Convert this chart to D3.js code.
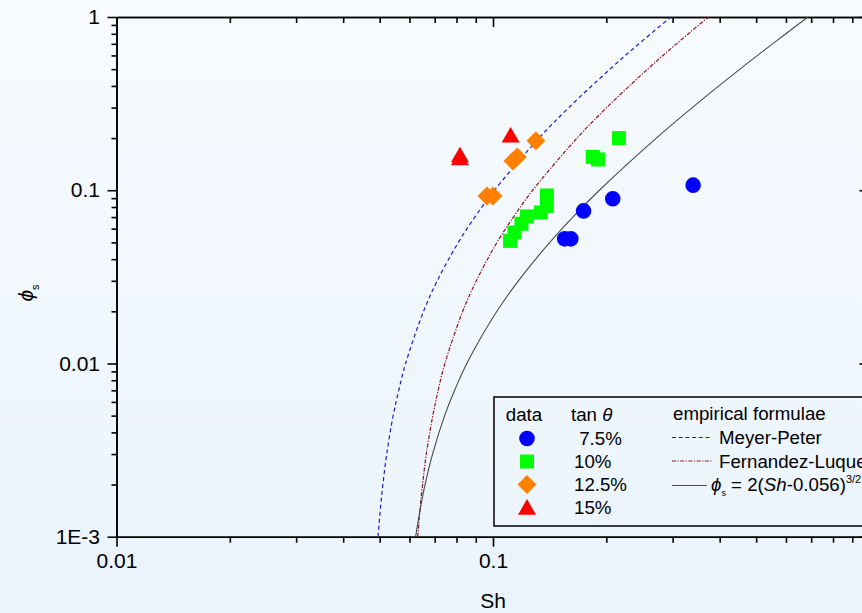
<!DOCTYPE html>
<html>
<head>
<meta charset="utf-8">
<script src="https://d3js.org/d3.v7.min.js"></script>
<style>
    body { margin: 0; }
    svg text { font-family: "Liberation Sans", Arial, sans-serif; fill: #000; }
    .axis path, .axis line { stroke: #000; stroke-width: 1.6; }
</style>
</head>
<body>
<svg id="chart" width="862" height="613"></svg>
<script>
// measured points, tan theta = 7.5 %, 10 %, 12.5 %, 15 %
var circSh  = [0.155, 0.161, 0.174, 0.208, 0.340];
var circPhi = [0.0524, 0.0524, 0.076, 0.0894, 0.107];
var sqSh  = [0.111, 0.114, 0.119, 0.123, 0.134, 0.139, 0.139, 0.184, 0.190, 0.216];
var sqPhi = [0.051, 0.057, 0.064, 0.0706, 0.0744, 0.0812, 0.0933, 0.1557, 0.1505, 0.200];
var diaSh  = [0.0964, 0.100, 0.113, 0.116, 0.130];
var diaPhi = [0.0927, 0.0927, 0.1476, 0.1557, 0.193];
var triSh  = [0.0817, 0.0817, 0.1114];
var triPhi = [0.1555, 0.1495, 0.202];

// empirical curves as (phi, Sh) pairs
var curvePhi = [0.001, 0.0015, 0.002, 0.003, 0.005, 0.007, 0.01, 0.02, 0.03, 0.05, 0.07, 0.1, 0.2, 0.3, 0.5, 0.7, 1];
var meyerSh  = [0.0495, 0.0503, 0.0510, 0.0522, 0.0543, 0.0562, 0.0586, 0.0654, 0.0711, 0.0809, 0.0895, 0.1009, 0.1325, 0.1590, 0.2045, 0.2441, 0.297];
var fernSh   = [0.0631, 0.0641, 0.0650, 0.0665, 0.0692, 0.0715, 0.0745, 0.0831, 0.0903, 0.1025, 0.1133, 0.1275, 0.1672, 0.2004, 0.2574, 0.3071, 0.3734];
var fitSh    = [0.0623, 0.0643, 0.0660, 0.0691, 0.0744, 0.0791, 0.0852, 0.1024, 0.1168, 0.1415, 0.1630, 0.1917, 0.2715, 0.3383, 0.4529, 0.5527, 0.686];

var xMajor = [0.01, 0.1, 1];
var xLabels = ["0.01", "0.1", ""];   // "1" falls outside the picture
var yMajor = [0.001, 0.01, 0.1, 1];
var yLabels = ["1E-3", "0.01", "0.1", "1"];

function minors(lo, hi) {
    var out = [];
    for (var d = lo; d < hi; d *= 10)
        for (var k = 2; k <= 9; k++) out.push(d * k);
    return out;
}

var svg = d3.select("#chart");
var defs = svg.append("defs");
var grad = defs.append("linearGradient").attr("id", "bg")
    .attr("x1", 0).attr("y1", 0).attr("x2", 0).attr("y2", 1);
grad.append("stop").attr("offset", "0%").attr("stop-color", "#f8fbff");
grad.append("stop").attr("offset", "100%").attr("stop-color", "#eaf4fd");
svg.append("rect").attr("width", 862).attr("height", 613).attr("fill", "url(#bg)");

var pLeft = 116.5, pRight = 869.5, pTop = 17, pBottom = 536.7;
var x = d3.scaleLog().domain([0.01, 1]).range([pLeft, pRight]);
var y = d3.scaleLog().domain([0.001, 1]).range([pBottom, pTop]);

defs.append("clipPath").attr("id", "plot").append("rect")
    .attr("x", pLeft).attr("y", pTop).attr("width", pRight - pLeft).attr("height", pBottom - pTop);

// axes
function styleAxis(g) {
    g.attr("font-size", 21).attr("font-family", null);
}
svg.append("g").attr("class", "axis").attr("transform", "translate(0," + pBottom + ")")
    .call(d3.axisBottom(x).tickValues(minors(0.01, 1)).tickSize(6).tickSizeOuter(0).tickFormat(""));
svg.append("g").attr("class", "axis").attr("transform", "translate(0," + pBottom + ")")
    .call(d3.axisBottom(x).tickValues(xMajor).tickSize(10).tickSizeOuter(0).tickPadding(6)
        .tickFormat(function (d, i) { return xLabels[i]; }))
    .call(styleAxis);
svg.append("g").attr("class", "axis").attr("transform", "translate(0," + pTop + ")")
    .call(d3.axisTop(x).tickValues(minors(0.01, 1)).tickSize(-6).tickSizeOuter(0).tickFormat(""));
svg.append("g").attr("class", "axis").attr("transform", "translate(0," + pTop + ")")
    .call(d3.axisTop(x).tickValues(xMajor).tickSize(-10).tickSizeOuter(0).tickFormat(""));

svg.append("g").attr("class", "axis").attr("transform", "translate(" + pLeft + ",0)")
    .call(d3.axisLeft(y).tickValues(minors(0.001, 1)).tickSize(5).tickSizeOuter(0).tickFormat(""));
svg.append("g").attr("class", "axis").attr("transform", "translate(" + pLeft + ",0)")
    .call(d3.axisLeft(y).tickValues(yMajor).tickSize(9).tickSizeOuter(0).tickPadding(7.5)
        .tickFormat(function (d, i) { return yLabels[i]; }))
    .call(styleAxis);
svg.append("g").attr("class", "axis").attr("transform", "translate(" + pRight + ",0)")
    .call(d3.axisRight(y).tickValues(minors(0.001, 1)).tickSize(-5).tickSizeOuter(0).tickFormat(""));
svg.append("g").attr("class", "axis").attr("transform", "translate(" + pRight + ",0)")
    .call(d3.axisRight(y).tickValues(yMajor).tickSize(-10).tickSizeOuter(0).tickFormat(""));

// axis titles
svg.append("text").attr("x", 493).attr("y", 608).attr("text-anchor", "middle")
    .attr("font-size", 21).text("Sh");
var yt = svg.append("text").attr("transform", "translate(33,293) rotate(-90)")
    .attr("text-anchor", "middle").attr("font-size", 21);
yt.append("tspan").attr("font-style", "italic").text("\u03d5");
yt.append("tspan").attr("font-size", 11).attr("dy", 6).text("s");

// curves
var line = d3.line().curve(d3.curveCatmullRom)
    .x(function (d) { return x(d[0]); }).y(function (d) { return y(d[1]); });
var curves = svg.append("g").attr("clip-path", "url(#plot)").attr("fill", "none");
curves.append("path").datum(d3.zip(meyerSh, curvePhi)).attr("d", line)
    .attr("stroke", "#1c1cc4").attr("stroke-width", 1.2).attr("stroke-dasharray", "4,3");
curves.append("path").datum(d3.zip(fernSh, curvePhi)).attr("d", line)
    .attr("stroke", "#8e1616").attr("stroke-width", 1.2).attr("stroke-dasharray", "4,1.5,1.2,1.5");
curves.append("path").datum(d3.zip(fitSh, curvePhi)).attr("d", line)
    .attr("stroke", "#4a4a4a").attr("stroke-width", 1.1);

// markers
var sym = {
    circle: d3.symbol().type(d3.symbolCircle).size(190)(),
    square: d3.symbol().type(d3.symbolSquare).size(196)(),
    diamond: d3.symbol().type(d3.symbolSquare).size(180)(),
    triangle: d3.symbol().type(d3.symbolTriangle).size(140)()
};
var series = [
    { sh: circSh, phi: circPhi, shape: "circle", color: "#0000ff", rot: 0 },
    { sh: sqSh, phi: sqPhi, shape: "square", color: "#00ff00", rot: 0 },
    { sh: diaSh, phi: diaPhi, shape: "diamond", color: "#ff8000", rot: 45 },
    { sh: triSh, phi: triPhi, shape: "triangle", color: "#ff0000", rot: 0 }
];
series.forEach(function (s) {
    svg.append("g").selectAll("path")
        .data(d3.zip(s.sh, s.phi))
        .enter().append("path")
        .attr("d", sym[s.shape])
        .attr("transform", function (d) {
            return "translate(" + x(d[0]) + "," + y(d[1]) + ") rotate(" + s.rot + ")";
        })
        .attr("fill", s.color);
});

// legend
var lg = svg.append("g").attr("font-size", 18.7);
lg.append("rect").attr("x", 494).attr("y", 397).attr("width", 420).attr("height", 129)
    .attr("fill", "none").attr("stroke", "#000").attr("stroke-width", 1.5);
lg.append("text").attr("x", 524).attr("y", 421).attr("text-anchor", "middle").text("data");
var tt = lg.append("text").attr("x", 571).attr("y", 421);
tt.append("tspan").text("tan ");
tt.append("tspan").attr("font-style", "italic").text("\u03b8");
lg.append("text").attr("x", 673).attr("y", 420).text("empirical formulae");

var legRows = ["\u00a07.5%", "10%", "12.5%", "15%"];
series.forEach(function (s, i) {
    var cy = 438.5 + i * 23;
    lg.append("path").attr("d", sym[s.shape])
        .attr("transform", "translate(527," + (s.shape === "triangle" ? cy + 2 : cy) + ") rotate(" + s.rot + ")")
        .attr("fill", s.color);
    lg.append("text").attr("x", 574).attr("y", cy + 6.5).text(legRows[i]);
});

lg.append("line").attr("x1", 672).attr("x2", 712).attr("y1", 437.5).attr("y2", 437.5)
    .attr("stroke", "#1c1cc4").attr("stroke-width", 1.2).attr("stroke-dasharray", "4,2.7");
lg.append("text").attr("x", 719).attr("y", 444).text("Meyer-Peter");
lg.append("line").attr("x1", 672).attr("x2", 713).attr("y1", 461).attr("y2", 461)
    .attr("stroke", "#8e1616").attr("stroke-width", 1.2).attr("stroke-dasharray", "4,1.5,1.2,1.5");
lg.append("text").attr("x", 719).attr("y", 467.5).text("Fernandez-Luque");
lg.append("line").attr("x1", 672).attr("x2", 707).attr("y1", 485.5).attr("y2", 485.5)
    .attr("stroke", "#4a4a4a").attr("stroke-width", 1.1);
var ft = lg.append("text").attr("x", 711).attr("y", 490.5);
ft.append("tspan").attr("font-style", "italic").text("\u03d5");
ft.append("tspan").attr("font-size", 9).attr("dy", 5).text("s");
ft.append("tspan").attr("dy", -5).text(" = 2(");
ft.append("tspan").attr("font-style", "italic").text("Sh");
ft.append("tspan").text("-0.056)");
ft.append("tspan").attr("font-size", 11).attr("dy", -8).text("3/2");
</script>
</body>
</html>
